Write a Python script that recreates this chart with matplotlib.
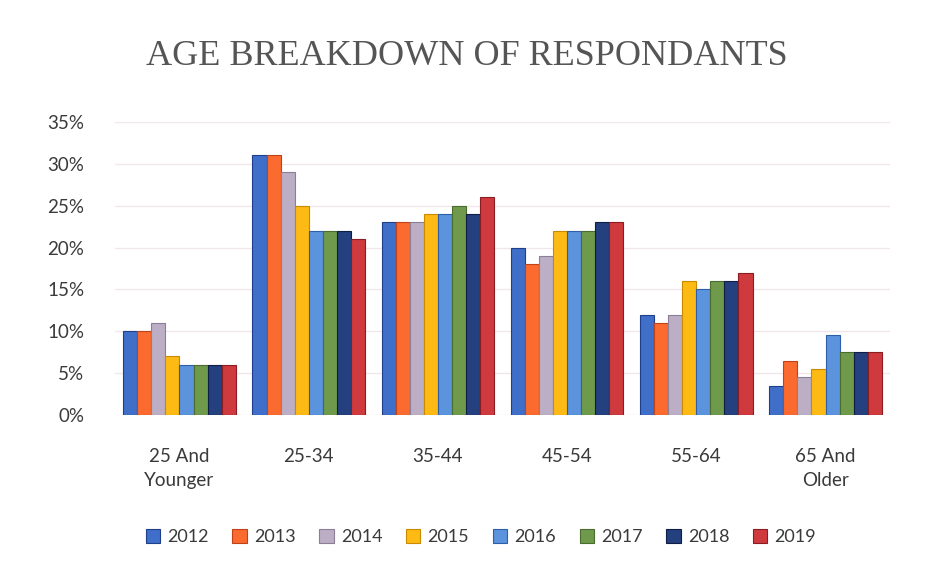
import matplotlib.pyplot as plt
import numpy as np

# --- DADOS ---
faixas = ['25 And\nYounger', '25-34', '35-44', '45-54', '55-64', '65 And\nOlder']
anos = ['2012', '2013', '2014', '2015', '2016', '2017', '2018', '2019']

v2012 = [10, 31, 23, 20, 12, 3.5]
v2013 = [10, 31, 23, 18, 11, 6.5]
v2014 = [11, 29, 23, 19, 12, 4.5]
v2015 = [7, 25, 24, 22, 16, 5.5]
v2016 = [6, 22, 24, 22, 15, 9.5]
v2017 = [6, 22, 25, 22, 16, 7.5]
v2018 = [6, 22, 24, 23, 16, 7.5]
v2019 = [6, 21, 26, 23, 17, 7.5]

series = [v2012, v2013, v2014, v2015, v2016, v2017, v2018, v2019]
cores = ['#3f6fc8', '#fb6a2e', '#bcaec4', '#fdb914', '#5b93dc', '#6f9a4c', '#24407e', '#cf3a3e']
bordas = ['#1f3f8a', '#c0421a', '#8a7f94', '#c98a00', '#2f5ea8', '#4a6c2c', '#101e45', '#8a1c22']

# --- GRAFICO ---
plt.rcParams['font.family'] = ['Lato', 'DejaVu Sans']

fig = plt.figure(figsize=(9.34, 5.70), dpi=100)
ax = fig.add_axes([0.123, 0.272, 0.830, 0.514])

x = np.arange(len(faixas))
n = len(series)
largura = 0.87 / n

for i, valores in enumerate(series):
    pos = x - 0.435 + largura * (i + 0.5)
    ax.bar(pos, np.array(valores) / 100, width=largura, color=cores[i],
           edgecolor=bordas[i], linewidth=0.8, label=anos[i], zorder=3)

ax.set_ylim(0, 0.35)
ax.set_xlim(-0.5, len(faixas) - 0.5)
ax.set_yticks(np.arange(0, 0.36, 0.05))
ax.set_yticklabels([f'{int(round(t * 100))}%' for t in np.arange(0, 0.36, 0.05)])
ax.set_xticks(x)
ax.set_xticklabels(faixas, linespacing=1.5)
ax.tick_params(axis='both', length=0, labelsize=13.5, labelcolor='#3a3a3a')
ax.tick_params(axis='x', pad=24)
ax.tick_params(axis='y', pad=22)
ax.grid(axis='y', color='#f1e6ea', linewidth=1, zorder=0)
for s in ax.spines.values():
    s.set_visible(False)

fig.suptitle('AGE BREAKDOWN OF RESPONDANTS', y=0.93, fontsize=26,
             family='Liberation Serif', color='#555555')

leg = fig.legend(loc='lower center', bbox_to_anchor=(0.515, 0.015), ncol=8,
                 frameon=False, fontsize=13, handlelength=0.8, handleheight=0.8,
                 handletextpad=0.4, columnspacing=1.3)
for t in leg.get_texts():
    t.set_color('#3a3a3a')

plt.savefig('out.png', dpi=100)
